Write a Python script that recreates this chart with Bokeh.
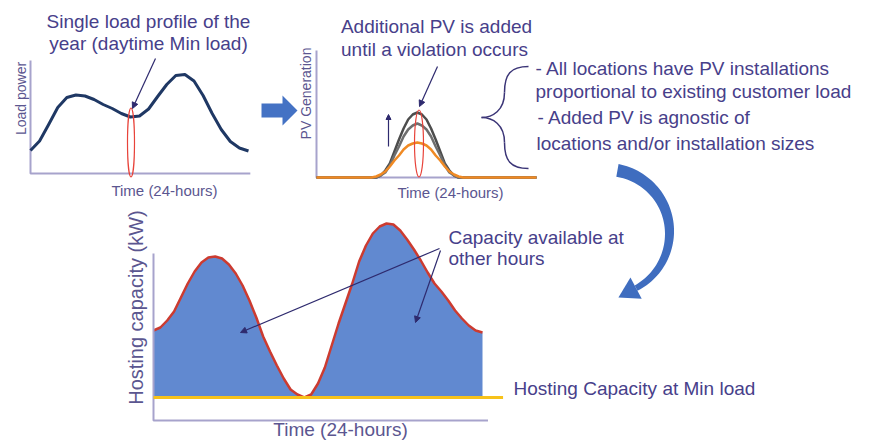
import numpy as np
from bokeh.plotting import figure
from bokeh.models import Range1d, Arrow, NormalHead
from bokeh.embed import file_html
from bokeh.resources import INLINE
from bokeh.core.properties import value

# ---------------- data ----------------
HOURS = [0, 1, 2, 3, 4, 5, 6, 7, 8, 9, 10, 11, 12, 13, 14, 15, 16, 17, 18,
         19, 20, 21, 22, 23, 24]
# single load profile (arbitrary units)
LOAD = [23, 32.5, 49, 66, 76, 78.5, 77.5, 74, 69, 65, 60, 56.5, 57.5, 64.5,
        77, 89, 98, 99, 92.5, 78, 60, 44, 32, 25.5, 22.5]
LOAD_AXIS_MAX = 113

# PV generation curves (orange = existing, grays = added PV steps)
PV_HOURS = [0, 6, 6.5, 7, 7.5, 8, 8.5, 9, 9.5, 10, 10.5, 11, 11.5, 12, 12.5,
            13, 13.5, 14, 14.5, 15, 15.5, 16, 24]
PV_BASE = [0, 0, 1, 3, 6, 11, 17, 22, 28, 32, 34, 35, 34, 32, 28, 22, 17, 11,
           6, 3, 1, 0, 0]
PV_STEP1 = [0, 0, 0, 2, 5, 12, 22, 31, 41, 48, 52, 54, 52, 48, 41, 31, 22, 12,
            5, 2, 0, 0, 0]
PV_STEP2 = [0, 0, 0, 2, 7, 14, 26, 38, 49, 58, 63, 65, 63, 58, 49, 38, 26, 14,
            7, 2, 0, 0, 0]
PV_AXIS_MAX = 127

# hosting capacity (kW, arbitrary scale), half-hourly
HC_HOURS = [0, 0.5, 1, 1.5, 2, 2.5, 3, 3.5, 4, 4.5, 5, 5.5, 6, 6.5, 7, 7.5,
            8, 8.5, 9, 9.5, 10, 10.5, 11, 11.5, 12, 12.5, 13, 13.5, 14, 14.5,
            15, 15.5, 16, 16.5, 17, 17.5, 18, 18.5, 19, 19.5, 20, 20.5, 21,
            21.5, 22, 22.5, 23, 23.5, 24]
HC = [90, 93, 100, 109, 123, 137, 149, 158, 163, 164, 162, 156, 147, 135, 120,
      103, 84, 69, 55, 42, 31, 26, 23, 26, 37, 53, 75, 97, 117, 137, 159, 175,
      187, 194, 197, 196, 190, 181, 171, 160, 148, 137, 129, 120, 110, 102,
      95, 90, 88]
HC_MIN = 23
HC_AXIS_MAX = 167

# ---------------- styling ----------------
FONT = "Liberation Sans"
TXT = "#47408a"
TXT2 = "#5b5690"
AXC = "#a7a3cc"
NAVY = "#2e2a6e"

X0, X1 = 0, 869       # reference-pixel coordinates shown by the frame
YB, YT = 442, 0

p = figure(width=869, height=442, x_range=Range1d(X0, X1),
           y_range=Range1d(YB, YT), output_backend="svg",
           toolbar_location=None, min_border=0,
           x_axis_location=None, y_axis_location=None)
p.grid.visible = False
p.outline_line_color = None
p.background_fill_color = "white"


def panel(name, px0, px1, dx0, dx1, py0, py1, dy0, dy1):
    """extra ranges so that data (dx, dy) land at reference pixel (px, py)"""
    f0 = (px0 - X0) / (X1 - X0)
    f1 = (px1 - X0) / (X1 - X0)
    sx = (dx1 - dx0) / (f1 - f0)
    xs = dx0 - f0 * sx
    g0 = (YB - py0) / (YB - YT)
    g1 = (YB - py1) / (YB - YT)
    sy = (dy1 - dy0) / (g1 - g0)
    ys = dy0 - g0 * sy
    p.extra_x_ranges[name] = Range1d(xs, xs + sx)
    p.extra_y_ranges[name] = Range1d(ys, ys + sy)


def txt(x, y, s, size, color=TXT, align="left", angle=0.0):
    p.text(x=[x], y=[y], text=[s], text_font=value(FONT),
           text_font_size=f"{size}px", text_color=color, text_align=align,
           text_baseline="middle", angle=angle)


def arrow(xs, ys, xe, ye, size=6):
    p.add_layout(Arrow(end=NormalHead(size=size, fill_color=NAVY,
                                      line_color=NAVY),
                       x_start=xs, y_start=ys, x_end=xe, y_end=ye,
                       line_color=NAVY, line_width=1.2))


# ---------------- panel 1: load profile ----------------
panel("load", 30, 248, 0, 24, 173, 60, 0, LOAD_AXIS_MAX)
p.line([HOURS[0], HOURS[0], HOURS[-1] + 0.2], [LOAD_AXIS_MAX, 0, 0],
       x_range_name="load", y_range_name="load", line_color=AXC, line_width=2)
p.line(HOURS, LOAD, x_range_name="load", y_range_name="load",
       line_color="#1f3864", line_width=3, line_join="round")
p.ellipse(x=[130.5], y=[142], width=7, height=69, fill_color=None,
          line_color="#e8433a", line_width=1.2)
txt(148, 21, "Single load profile of the", 19, align="center")
txt(148, 43, "year (daytime Min load)", 19, align="center")
arrow(155, 58, 132, 108)
txt(20, 98, "Load power", 14, TXT2, "center", np.pi / 2)
txt(164, 190, "Time (24-hours)", 15, TXT2, "center")

# ---------------- right block arrow ----------------
p.patch([261, 282, 282, 297, 282, 282, 261],
        [103, 103, 95, 110, 125, 117, 117], fill_color="#4472c4",
        line_color=None)

# ---------------- panel 2: PV generation ----------------
panel("pv", 316, 536, 0, 24, 177, 50, 0, PV_AXIS_MAX)
p.line([PV_HOURS[0], PV_HOURS[0], PV_HOURS[-1]], [PV_AXIS_MAX, 0, 0],
       x_range_name="pv", y_range_name="pv", line_color=AXC, line_width=2)
p.line(PV_HOURS, PV_STEP2, x_range_name="pv", y_range_name="pv",
       line_color="#4d4d4d", line_width=2.5, line_join="round")
p.line(PV_HOURS, PV_STEP1, x_range_name="pv", y_range_name="pv",
       line_color="#6e6e6e", line_width=2.5, line_join="round")
p.line(PV_HOURS, PV_BASE, x_range_name="pv", y_range_name="pv",
       line_color="#f08a24", line_width=2.5, line_join="round")
p.ellipse(x=[418.5], y=[143], width=9, height=67, fill_color=None,
          line_color="#e8433a", line_width=1.2)
arrow(388, 146, 388, 114, size=5)
txt(436, 26, "Additional PV is added", 19, align="center")
txt(434, 49, "until a violation occurs", 19, align="center")
arrow(437, 66, 419, 106)
txt(305, 93, "PV Generation", 14, TXT2, "center", np.pi / 2)
txt(450, 192, "Time (24-hours)", 15, TXT2, "center")

# brace
bx0 = [528, 504, 481, 504]
by0 = [66, 92, 117, 142]
bx1 = [504, 481, 504, 528]
by1 = [92, 117, 142, 168]
bcx0 = [510, 504, 492, 504]
bcy0 = [66, 110, 117, 160]
bcx1 = [504, 492, 504, 510]
bcy1 = [74, 117, 124, 168]
p.bezier(x0=bx0, y0=by0, x1=bx1, y1=by1, cx0=bcx0, cy0=bcy0, cx1=bcx1,
         cy1=bcy1, line_color="#3b3577", line_width=1.5)

txt(535, 68, "- All locations have PV installations", 19)
txt(535, 91, "proportional to existing customer load", 19)
txt(537, 117, "- Added PV is agnostic of", 19)
txt(536, 143, "locations and/or installation sizes", 19)

# ---------------- curved arrow ----------------
cx, cy, r = 606, 232, 63
th = np.radians(np.linspace(-80, 62, 60))
thick = np.linspace(13, 6, th.size)
ox = cx + (r + thick / 2) * np.cos(th)
oy = cy + (r + thick / 2) * np.sin(th)
ix = cx + (r - thick / 2) * np.cos(th)
iy = cy + (r - thick / 2) * np.sin(th)
p.patch(np.concatenate([ox, ix[::-1]]), np.concatenate([oy, iy[::-1]]),
        fill_color="#3f6dbf", line_color=None)
te = th[-1]
pxe, pye = cx + r * np.cos(te), cy + r * np.sin(te)
tx, ty = -np.sin(te), np.cos(te)
nx, ny = np.cos(te), np.sin(te)
p.patch([pxe + 12 * nx, pxe + 20 * tx, pxe - 12 * nx],
        [pye + 12 * ny, pye + 20 * ty, pye - 12 * ny],
        fill_color="#3f6dbf", line_color=None)

# ---------------- panel 3: hosting capacity ----------------
panel("hc", 153, 482, 0, 24, 420, 253, 0, HC_AXIS_MAX)
p.varea(x=HC_HOURS, y1=[HC_MIN] * len(HC_HOURS), y2=HC, x_range_name="hc",
        y_range_name="hc", fill_color="#6189d0")
p.line(HC_HOURS, HC, x_range_name="hc", y_range_name="hc",
       line_color="#cc3b30", line_width=2.5, line_join="round")
p.line([HC_HOURS[0], HC_HOURS[0], HC_HOURS[-1] + 0.4], [HC_AXIS_MAX, 0, 0],
       x_range_name="hc", y_range_name="hc", line_color=AXC, line_width=2)
p.line([HC_HOURS[0], HC_HOURS[-1] + 1.5], [HC_MIN, HC_MIN],
       x_range_name="hc", y_range_name="hc", line_color="#f7c21a",
       line_width=3)

txt(448, 237, "Capacity available at", 19)
txt(448, 258, "other hours", 19)
arrow(439, 248, 240, 332)
arrow(440, 250, 415, 322)
txt(513, 388, "Hosting Capacity at Min load", 19)
txt(135, 307, "Hosting capacity (kW)", 20, TXT2, "center", np.pi / 2)
txt(340, 429, "Time (24-hours)", 19, TXT2, "center")

open("out.html", "w").write(file_html(p, INLINE))
